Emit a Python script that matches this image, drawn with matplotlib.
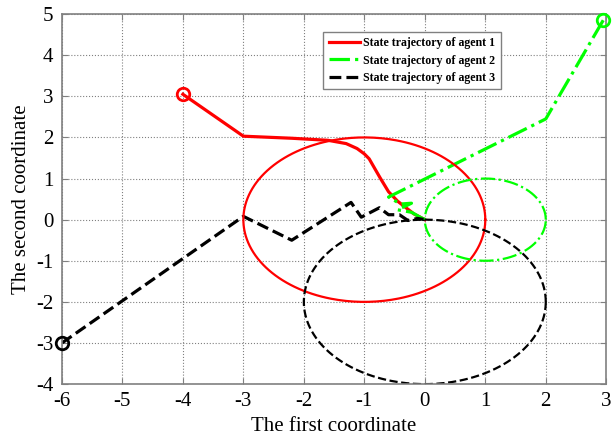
import numpy as np
import matplotlib.pyplot as plt

FONT = 'Liberation Serif'
plt.rcParams['axes.unicode_minus'] = False

# trajectories
x1 = [-4.0, -3.0, -2.2, -1.6, -1.3, -1.12, -1.0, -0.92, -0.83, -0.74, -0.6, -0.45, -0.32, -0.18, 0.0]
y1 = [3.05, 2.03, 1.98, 1.93, 1.85, 1.73, 1.6, 1.48, 1.25, 1.02, 0.68, 0.45, 0.3, 0.14, 0.0]
x2 = [2.95, 2.0, -0.6, -0.4, -0.22, -0.45, -0.22, -0.1, 0.0]
y2 = [4.85, 2.45, 0.55, 0.38, 0.4, 0.24, 0.18, 0.08, 0.0]
x3 = [-6.0, -3.0, -2.2, -1.22, -1.05, -0.75, -0.6, -0.42, -0.28, -0.12, 0.0]
y3 = [-3.0, 0.08, -0.5, 0.42, 0.06, 0.29, 0.12, 0.12, -0.02, 0.03, 0.0]

# circles: (center x, center y, radius)
circ1 = (-1.0, 0.0, 2.0)
circ2 = (1.0, 0.0, 1.0)
circ3 = (0.0, -2.0, 2.0)

labels = ['State trajectory of agent 1', 'State trajectory of agent 2', 'State trajectory of agent 3']

fig = plt.figure(figsize=(6.13, 4.4), dpi=100)
ax = fig.add_axes([0.101, 0.127, 0.888, 0.841])

th = np.linspace(0, 2*np.pi, 300)
ax.plot(x1, y1, 'r-', lw=2.3, label=labels[0])
ax.plot(x2, y2, color=(0, 1, 0), ls='-.', lw=2.3, label=labels[1])
ax.plot(x3, y3, 'k--', lw=2.3, label=labels[2])

ax.plot(circ1[0] + circ1[2]*np.cos(th), circ1[1] + circ1[2]*np.sin(th), 'r-', lw=1.6)
ax.plot(circ2[0] + circ2[2]*np.cos(th), circ2[1] + circ2[2]*np.sin(th), color=(0, 1, 0), ls='-.', lw=1.6)
ax.plot(circ3[0] + circ3[2]*np.cos(th), circ3[1] + circ3[2]*np.sin(th), 'k--', lw=1.6)

ax.plot(x1[0], y1[0], 'o', mfc='none', mec='r', ms=9, mew=2, clip_on=False, zorder=5)
ax.plot(x2[0], y2[0], 'o', mfc='none', mec=(0, 1, 0), ms=9, mew=2, clip_on=False, zorder=5)
ax.plot(x3[0], y3[0], 'o', mfc='none', mec='k', ms=9, mew=2, clip_on=False, zorder=5)

ax.set_xlim(-6, 3)
ax.set_ylim(-4, 5)
ax.set_xticks(range(-6, 4))
ax.set_yticks(range(-4, 6))
ax.grid(True, ls=':', color='gray', lw=0.8)
ax.tick_params(direction='in', length=4, labelsize=15, pad=6, top=True, right=True,
               color='gray', labelcolor='black')
for t in ax.get_xticklabels() + ax.get_yticklabels():
    t.set_fontname(FONT)
for s in ax.spines.values():
    s.set_color('gray')
    s.set_linewidth(1.2)

ax.set_xlabel('The first coordinate', fontname=FONT, fontsize=15)
ax.set_ylabel('The second coordinate', fontname=FONT, fontsize=15)

leg = ax.legend(loc='upper left', bbox_to_anchor=(0.48, 0.952), borderaxespad=0, fancybox=False,
                prop={'family': FONT, 'weight': 'bold', 'size': 8.6}, handlelength=2.6,
                borderpad=0.45, labelspacing=0.45, handletextpad=0.3)
leg.get_frame().set_edgecolor('gray')
leg.get_frame().set_alpha(1)

fig.savefig('out.png', dpi=100)
